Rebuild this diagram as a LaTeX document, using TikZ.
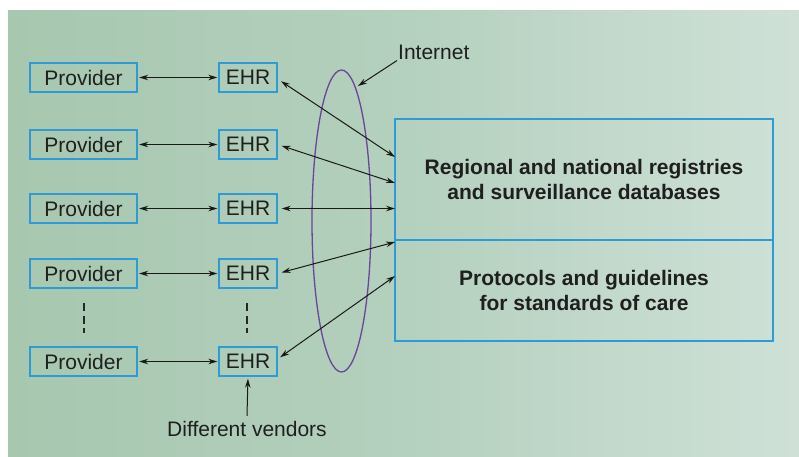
\documentclass[tikz,border=0pt]{standalone}
\usepackage{fontspec}
\setmainfont{Liberation Sans}
\usetikzlibrary{arrows.meta,shapes.geometric}
\definecolor{bgL}{HTML}{A7C7AF}
\definecolor{bgM}{HTML}{B4D0BE}
\definecolor{bgR}{HTML}{CFE1D7}
\definecolor{boxc}{HTML}{2E9BD6}
\definecolor{netc}{HTML}{6A4599}
\tikzset{
  every node/.style={font=\fontsize{21}{25}\selectfont, text=black!88},
  prov/.style={draw=boxc, line width=1.4pt, minimum width=107pt, minimum height=29pt, inner sep=0pt},
  ehr/.style={draw=boxc, line width=1.4pt, minimum width=58pt, minimum height=29pt, inner sep=0pt},
  bigbox/.style={draw=boxc, line width=1.4pt, minimum width=378pt, inner sep=0pt, align=center, font=\fontsize{21}{25}\selectfont\bfseries},
  link/.style={black!90, line width=1pt, {Stealth[length=9pt,width=5.5pt]}-{Stealth[length=9pt,width=5.5pt]}},
  onearrow/.style={black!90, line width=1pt, -{Stealth[length=9pt,width=5.5pt]}},
  vdots/.style={black!85, line width=2.4pt, dash pattern=on 8pt off 4.5pt}
}
\begin{document}
\begin{tikzpicture}[x=1pt,y=-1pt]
\useasboundingbox (0,0) rectangle (799,456);
\fill[white] (0,0) rectangle (799,456);
\shade[left color=bgL, right color=bgR, middle color=bgM] (8,10) rectangle (799,456);

% providers and EHRs
\foreach \i/\y in {1/77.5,2/144.5,3/208.5,4/273.5,5/361.5}{
  \node[prov] (p\i) at (83.5,\y) {Provider};
  \node[ehr] (e\i) at (248,\y) {EHR};
  \draw[link, shorten <=1.5pt, shorten >=1pt] (p\i) -- (e\i);
}

% dashed continuation marks
\coordinate (d1a) at (84,303); \coordinate (d1b) at (84,333);
\coordinate (d2a) at (247,303); \coordinate (d2b) at (247,333);
\draw[vdots] (d1a) -- (d1b);
\draw[vdots] (d2a) -- (d2b);

% big boxes
\node[bigbox, minimum height=121pt] (reg) at (584,179.5) {Regional and national registries\\and surveillance databases};
\node[bigbox, minimum height=101pt] (prot) at (584,290.5) {Protocols and guidelines\\for standards of care};

% internet ellipse
\node[draw=netc, line width=1.3pt, ellipse, minimum width=59pt, minimum height=302pt, inner sep=0pt] (net) at (341.5,221) {};
\node[anchor=west, inner sep=1pt] (inet) at (397,52) {Internet};
\coordinate (netpt) at (358,86);
\draw[onearrow] (inet.south west) -- (netpt);

% connections to registries
\coordinate (r1) at (395,157);
\coordinate (r2) at (395,183);
\coordinate (r3) at (395,208.5);
\coordinate (r4) at (395,242);
\coordinate (r5) at (395,276);
\draw[link, shorten <=4pt] (e1.east) ++(0,1.5) coordinate (s1) (s1) -- (r1);
\draw[link, shorten <=4pt] (e2.east) -- (r2);
\draw[link, shorten <=4pt] (e3.east) -- (r3);
\draw[link, shorten <=4pt] (e4.east) -- (r4);
\draw[link, shorten <=3pt] (e5.east) ++(0,-2.5) coordinate (s5) (s5) -- (r5);

% different vendors
\node (vend) at (247,429) {Different vendors};
\draw[onearrow, shorten >=2pt] (vend.north) ++(0,-2) coordinate (vt) (vt) -- (e5.south);
\end{tikzpicture}
\end{document}
